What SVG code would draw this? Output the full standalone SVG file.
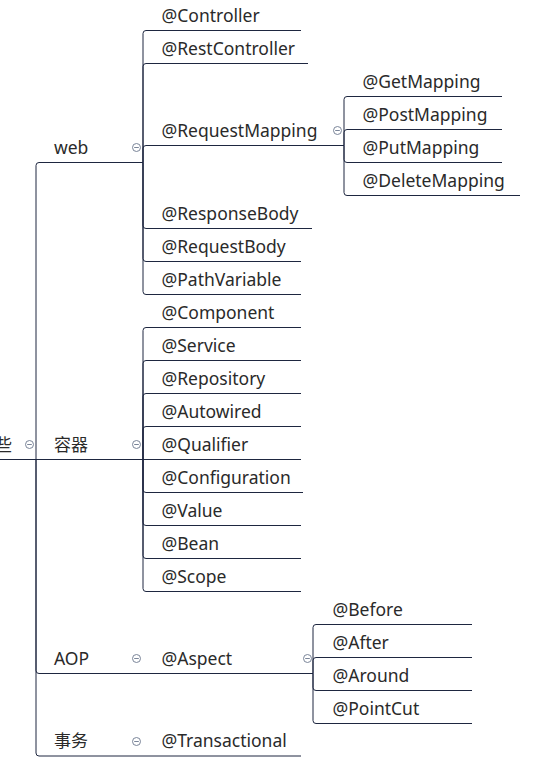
<svg xmlns="http://www.w3.org/2000/svg" width="537" height="761" viewBox="0 0 537 761">
<style>
.c{fill:none;stroke:#1e2740;stroke-width:1}
text{font-family:"Noto Sans","Noto Sans CJK SC",sans-serif;font-size:17.5px;fill:#2a2a2a}
.t{font-family:"Noto Sans CJK SC","Noto Sans",sans-serif;font-size:17px}
</style>
<defs>
<g id="minus"><circle cx="0" cy="0" r="4" fill="#ffffff" stroke="#7a8599" stroke-width="1"/><path d="M-2.3 0H2.3" stroke="#7a8599" stroke-width="1"/></g>
</defs>
<rect width="537" height="761" fill="#fff"/>
<g id="connectors">
<path class="c" d="M0 459.5H36"/>
<path class="c" d="M36 459.5V165.5Q36 162.5 39 162.5H143"/>
<path class="c" d="M36 459.5H143"/>
<path class="c" d="M36 459.5V670.5Q36 673.5 39 673.5H143"/>
<path class="c" d="M36 459.5V753Q36 756 39 756H143"/>
<path class="c" d="M143 162.5V33.5Q143 30.5 146 30.5H301"/>
<path class="c" d="M143 162.5V66.5Q143 63.5 146 63.5H308"/>
<path class="c" d="M143 162.5V148.5Q143 145.5 146 145.5H344"/>
<path class="c" d="M143 162.5V225.5Q143 228.5 146 228.5H312"/>
<path class="c" d="M143 162.5V258.5Q143 261.5 146 261.5H301"/>
<path class="c" d="M143 162.5V291.5Q143 294.5 146 294.5H301"/>
<path class="c" d="M344 145.5V99.5Q344 96.5 347 96.5H502"/>
<path class="c" d="M344 145.5V132.5Q344 129.5 347 129.5H502"/>
<path class="c" d="M344 145.5V159.5Q344 162.5 347 162.5H502"/>
<path class="c" d="M344 145.5V192.5Q344 195.5 347 195.5H520"/>
<path class="c" d="M143 459.5V330.5Q143 327.5 146 327.5H301"/>
<path class="c" d="M143 459.5V363.5Q143 360.5 146 360.5H301"/>
<path class="c" d="M143 459.5V396.5Q143 393.5 146 393.5H301"/>
<path class="c" d="M143 459.5V429.5Q143 426.5 146 426.5H301"/>
<path class="c" d="M143 459.5H301"/>
<path class="c" d="M143 459.5V489.5Q143 492.5 146 492.5H303"/>
<path class="c" d="M143 459.5V522.5Q143 525.5 146 525.5H301"/>
<path class="c" d="M143 459.5V555.5Q143 558.5 146 558.5H301"/>
<path class="c" d="M143 459.5V588.5Q143 591.5 146 591.5H301"/>
<path class="c" d="M143 673.5H313"/>
<path class="c" d="M313 673.5V627.5Q313 624.5 316 624.5H472"/>
<path class="c" d="M313 673.5V660.5Q313 657.5 316 657.5H472"/>
<path class="c" d="M313 673.5V687.5Q313 690.5 316 690.5H472"/>
<path class="c" d="M313 673.5V720.5Q313 723.5 316 723.5H472"/>
<path class="c" d="M143 756H301"/>
</g>
<g id="root"><text class="t" x="-5" y="450.5">些</text><use href="#minus" x="29.5" y="444.5"/></g>
<g id="web"><text x="54" y="153.5">web</text><use href="#minus" x="136.5" y="147.5"/></g>
<g id="container"><text class="t" x="54" y="450.5">容器</text><use href="#minus" x="136.5" y="444.5"/></g>
<g id="aop"><text x="54" y="664.5">AOP</text><use href="#minus" x="136.5" y="658.5"/></g>
<g id="tx"><text class="t" x="54" y="747">事务</text><use href="#minus" x="136.5" y="741.5"/></g>
<g id="controller"><text x="161.5" y="21.5">@Controller</text></g>
<g id="restcontroller"><text x="161.5" y="54.5">@RestController</text></g>
<g id="requestmapping"><text x="161.5" y="136.5">@RequestMapping</text><use href="#minus" x="337.5" y="130.5"/></g>
<g id="getmapping"><text x="362.5" y="87.5">@GetMapping</text></g>
<g id="postmapping"><text x="362.5" y="120.5">@PostMapping</text></g>
<g id="putmapping"><text x="362.5" y="153.5">@PutMapping</text></g>
<g id="deletemapping"><text x="362.5" y="186.5">@DeleteMapping</text></g>
<g id="responsebody"><text x="161.5" y="219.5">@ResponseBody</text></g>
<g id="requestbody"><text x="161.5" y="252.5">@RequestBody</text></g>
<g id="pathvariable"><text x="161.5" y="285.5">@PathVariable</text></g>
<g id="component"><text x="161.5" y="318.5">@Component</text></g>
<g id="service"><text x="161.5" y="351.5">@Service</text></g>
<g id="repository"><text x="161.5" y="384.5">@Repository</text></g>
<g id="autowired"><text x="161.5" y="417.5">@Autowired</text></g>
<g id="qualifier"><text x="161.5" y="450.5">@Qualifier</text></g>
<g id="configuration"><text x="161.5" y="483.5">@Configuration</text></g>
<g id="value"><text x="161.5" y="516.5">@Value</text></g>
<g id="bean"><text x="161.5" y="549.5">@Bean</text></g>
<g id="scope"><text x="161.5" y="582.5">@Scope</text></g>
<g id="aspect"><text x="161.5" y="664.5">@Aspect</text><use href="#minus" x="307.5" y="658.5"/></g>
<g id="before"><text x="332.5" y="615.5">@Before</text></g>
<g id="after"><text x="332.5" y="648.5">@After</text></g>
<g id="around"><text x="332.5" y="681.5">@Around</text></g>
<g id="pointcut"><text x="332.5" y="714.5">@PointCut</text></g>
<g id="transactional"><text x="161.5" y="747">@Transactional</text></g>
</svg>
